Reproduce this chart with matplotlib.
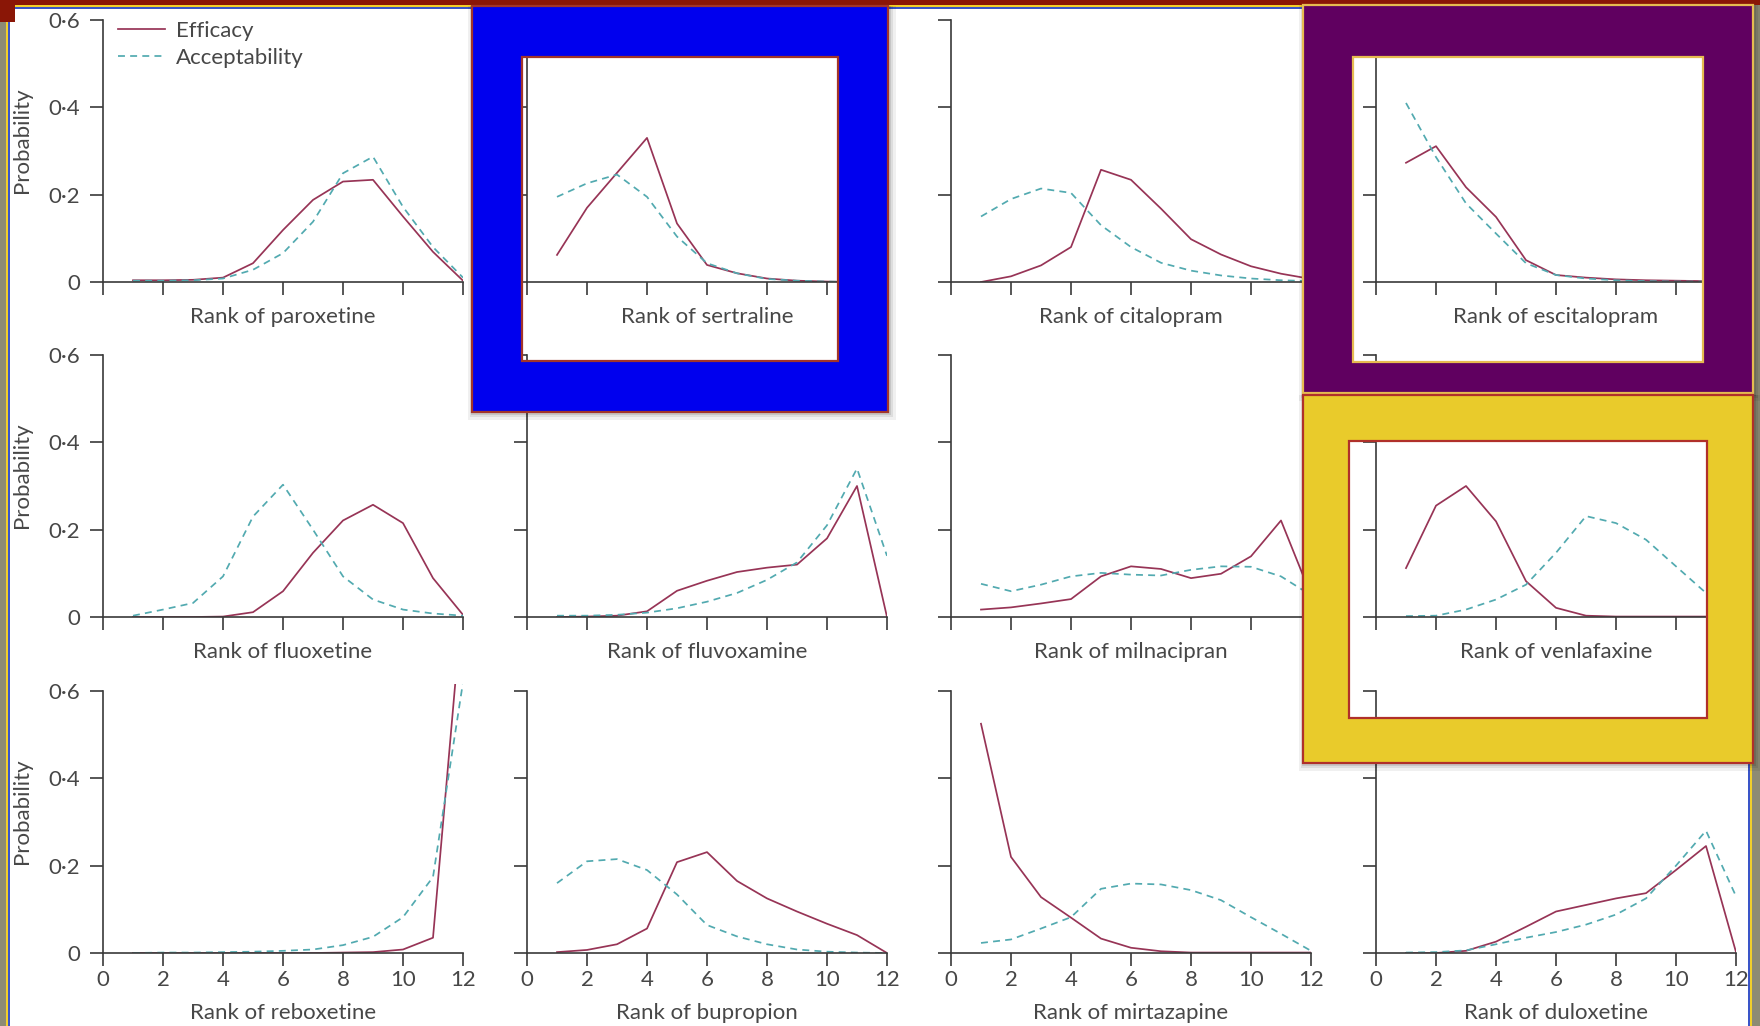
import matplotlib
matplotlib.use("Agg")
import matplotlib.pyplot as plt
from matplotlib.patches import PathPatch, Rectangle
from matplotlib.path import Path

W, H = 1760, 1026

ranks = list(range(1, 13))

# probability of each rank
paroxetine_eff = [0.004, 0.004, 0.005, 0.01, 0.043, 0.119, 0.188, 0.23, 0.234, 0.15, 0.069, 0.003]
paroxetine_acc = [0.003, 0.003, 0.004, 0.008, 0.028, 0.066, 0.138, 0.249, 0.287, 0.172, 0.08, 0.01]
sertraline_eff = [0.062, 0.17, 0.25, 0.33, 0.134, 0.039, 0.02, 0.008, 0.003, 0.001, 0.0, 0.0]
sertraline_acc = [0.195, 0.226, 0.246, 0.195, 0.104, 0.043, 0.02, 0.007, 0.003, 0.001, 0.0, 0.0]
citalopram_eff = [0.0, 0.013, 0.038, 0.08, 0.257, 0.234, 0.168, 0.098, 0.063, 0.036, 0.019, 0.007]
citalopram_acc = [0.15, 0.19, 0.214, 0.204, 0.13, 0.08, 0.044, 0.026, 0.015, 0.008, 0.004, 0.002]
escitalopram_eff = [0.273, 0.311, 0.217, 0.149, 0.05, 0.016, 0.01, 0.006, 0.004, 0.003, 0.002, 0.001]
escitalopram_acc = [0.41, 0.286, 0.18, 0.111, 0.043, 0.016, 0.008, 0.004, 0.002, 0.001, 0.001, 0.0]
fluoxetine_eff = [0.0, 0.0, 0.0, 0.001, 0.011, 0.059, 0.147, 0.221, 0.257, 0.215, 0.089, 0.005]
fluoxetine_acc = [0.003, 0.017, 0.032, 0.093, 0.23, 0.303, 0.2, 0.093, 0.04, 0.017, 0.008, 0.003]
fluvoxamine_eff = [0.0, 0.001, 0.003, 0.013, 0.06, 0.083, 0.103, 0.113, 0.12, 0.18, 0.3, 0.0]
fluvoxamine_acc = [0.003, 0.003, 0.005, 0.01, 0.02, 0.035, 0.055, 0.085, 0.125, 0.21, 0.34, 0.14]
milnacipran_eff = [0.017, 0.022, 0.031, 0.041, 0.093, 0.116, 0.11, 0.089, 0.099, 0.139, 0.221, 0.05]
milnacipran_acc = [0.076, 0.059, 0.074, 0.093, 0.101, 0.097, 0.095, 0.108, 0.116, 0.115, 0.093, 0.05]
venlafaxine_eff = [0.112, 0.255, 0.3, 0.219, 0.082, 0.021, 0.003, 0.001, 0.001, 0.001, 0.001, 0.001]
venlafaxine_acc = [0.002, 0.003, 0.017, 0.04, 0.074, 0.147, 0.231, 0.215, 0.177, 0.116, 0.055, 0.02]
reboxetine_eff = [0.0, 0.0, 0.0, 0.0, 0.0, 0.0, 0.0, 0.001, 0.002, 0.008, 0.035, 0.82]
reboxetine_acc = [0.0, 0.001, 0.001, 0.002, 0.003, 0.005, 0.008, 0.018, 0.037, 0.082, 0.174, 0.62]
bupropion_eff = [0.002, 0.007, 0.02, 0.056, 0.208, 0.231, 0.165, 0.125, 0.095, 0.067, 0.041, 0.0]
bupropion_acc = [0.16, 0.21, 0.215, 0.19, 0.134, 0.064, 0.038, 0.02, 0.008, 0.003, 0.001, 0.0]
mirtazapine_eff = [0.525, 0.22, 0.128, 0.081, 0.033, 0.012, 0.004, 0.001, 0.001, 0.001, 0.001, 0.001]
mirtazapine_acc = [0.023, 0.031, 0.056, 0.082, 0.147, 0.159, 0.157, 0.144, 0.121, 0.082, 0.044, 0.005]
duloxetine_eff = [0.0, 0.0, 0.005, 0.026, 0.06, 0.095, 0.11, 0.125, 0.137, 0.19, 0.245, 0.002]
duloxetine_acc = [0.001, 0.002, 0.006, 0.02, 0.035, 0.048, 0.065, 0.088, 0.125, 0.2, 0.28, 0.13]

panels = [
    ("paroxetine", paroxetine_eff, paroxetine_acc),
    ("sertraline", sertraline_eff, sertraline_acc),
    ("citalopram", citalopram_eff, citalopram_acc),
    ("escitalopram", escitalopram_eff, escitalopram_acc),
    ("fluoxetine", fluoxetine_eff, fluoxetine_acc),
    ("fluvoxamine", fluvoxamine_eff, fluvoxamine_acc),
    ("milnacipran", milnacipran_eff, milnacipran_acc),
    ("venlafaxine", venlafaxine_eff, venlafaxine_acc),
    ("reboxetine", reboxetine_eff, reboxetine_acc),
    ("bupropion", bupropion_eff, bupropion_acc),
    ("mirtazapine", mirtazapine_eff, mirtazapine_acc),
    ("duloxetine", duloxetine_eff, duloxetine_acc),
]

x_ticks = [0, 2, 4, 6, 8, 10, 12]
y_ticks = [0, 0.2, 0.4, 0.6]
y_tick_labels = ["0", "0·2", "0·4", "0·6"]

EFF_COLOR = "#973456"
ACC_COLOR = "#52aab0"
TEXT = "#474747"
AXIS = "#3a3a3a"
FS = 16

plt.rcParams["font.family"] = ["Lato", "DejaVu Sans"]

col_x = [103, 527, 951, 1376]   # pixel x of rank 0
row_y = [282, 617, 953]         # pixel y of probability 0
ax_w = 360
ymax = 0.615
ax_h = ymax * 436.7

fig = plt.figure(figsize=(W / 100, H / 100), dpi=100)
fig.patch.set_facecolor("#8d8b74")

# slide background
bg = fig.add_axes([0, 0, 1, 1], zorder=0)
bg.set_xlim(0, W)
bg.set_ylim(H, 0)
bg.axis("off")
bg.add_patch(Rectangle((6, 5), 1746, 1030, facecolor="#f2cf2a", edgecolor="none"))
bg.add_patch(Rectangle((8, 7), 1742, 1030, facecolor="#3a55c8", edgecolor="none"))
bg.add_patch(Rectangle((10, 9), 1738, 1030, facecolor="white", edgecolor="none"))
bg.add_patch(Rectangle((0, 0), W, 5, facecolor="#8a1606", edgecolor="none"))
bg.add_patch(Rectangle((0, 0), 15, 22, facecolor="#8a1606", edgecolor="none"))

for i, (name, eff, acc) in enumerate(panels):
    r, c = divmod(i, 4)
    x0, y0 = col_x[c], row_y[r]
    ax = fig.add_axes([x0 / W, 1 - y0 / H, ax_w / W, ax_h / H], zorder=1)
    ax.patch.set_alpha(0)
    ax.plot(ranks, eff, color=EFF_COLOR, lw=1.25)
    ax.plot(ranks, acc, color=ACC_COLOR, lw=1.25, ls=(0, (4, 3)))
    ax.set_xlim(0, 12)
    ax.set_ylim(0, ymax)
    for s in ["top", "right"]:
        ax.spines[s].set_visible(False)
    ax.spines["left"].set_bounds(0, 0.6)
    for s in ["left", "bottom"]:
        ax.spines[s].set_color(AXIS)
        ax.spines[s].set_linewidth(1.2)
    ax.set_xticks(x_ticks)
    ax.set_yticks(y_ticks)
    ax.tick_params(direction="out", length=9.5, width=1.2, color=AXIS,
                   labelcolor=TEXT, labelsize=FS)
    ax.tick_params(axis="y", pad=7)
    ax.tick_params(axis="x", pad=3)
    if c == 0:
        ax.set_yticklabels(y_tick_labels)
        bg.text(22, y0 - 142, "Probability", rotation=90, ha="center", va="center",
                fontsize=FS, color=TEXT)
    else:
        ax.set_yticklabels([])
    if r == 2:
        ax.set_xticklabels([str(t) for t in x_ticks])
        bg.text(x0 + 180, y0 + 60, "Rank of " + name, ha="center", va="center",
                fontsize=FS, color=TEXT)
    else:
        ax.set_xticklabels([])
        bg.text(x0 + 180, y0 + 35, "Rank of " + name, ha="center", va="center",
                fontsize=FS, color=TEXT)
    if i == 0:
        ax.legend(["Efficacy", "Acceptability"], loc="upper left",
                  bbox_to_anchor=(118 / W, 1 - 21 / H), bbox_transform=fig.transFigure,
                  frameon=False, fontsize=FS, labelcolor=TEXT, borderpad=0,
                  borderaxespad=0, handlelength=2.1, handletextpad=0.5, labelspacing=0.3)

# highlight frames drawn over the figure
ov = fig.add_axes([0, 0, 1, 1], zorder=5)
ov.set_xlim(0, W)
ov.set_ylim(H, 0)
ov.axis("off")
ov.patch.set_alpha(0)


def ring(outer, inner, **kw):
    ox0, oy0, ox1, oy1 = outer
    ix0, iy0, ix1, iy1 = inner
    verts = [(ox0, oy0), (ox1, oy0), (ox1, oy1), (ox0, oy1), (ox0, oy0),
             (ix0, iy0), (ix0, iy1), (ix1, iy1), (ix1, iy0), (ix0, iy0)]
    codes = [Path.MOVETO, Path.LINETO, Path.LINETO, Path.LINETO, Path.CLOSEPOLY] * 2
    ov.add_patch(PathPatch(Path(verts, codes), **kw))


frames = [
    ((472, 6, 888, 412), (522, 57, 838, 361), "#0000ee", "#a2352a"),
    ((1303, 5, 1753, 393), (1353, 57, 1703, 362), "#600060", "#e6bb50"),
    ((1303, 395, 1753, 763), (1349, 441, 1707, 718), "#e9cb2b", "#b0302a"),
]
for outer, inner, fill, edge in frames:
    for k, a in [(8, 0.06), (5, 0.08), (3, 0.1)]:
        o = (outer[0] - k / 2, outer[1], outer[2] + k, outer[3] + k)
        ring(o, outer, facecolor="black", edgecolor="none", alpha=a)
    ring(outer, inner, facecolor=fill, edgecolor="none")
    ov.add_patch(Rectangle(outer[:2], outer[2] - outer[0], outer[3] - outer[1],
                           fill=False, edgecolor=edge, lw=1.6))
    ov.add_patch(Rectangle(inner[:2], inner[2] - inner[0], inner[3] - inner[1],
                           fill=False, edgecolor=edge, lw=1.6))

fig.savefig("out.png", dpi=100)
